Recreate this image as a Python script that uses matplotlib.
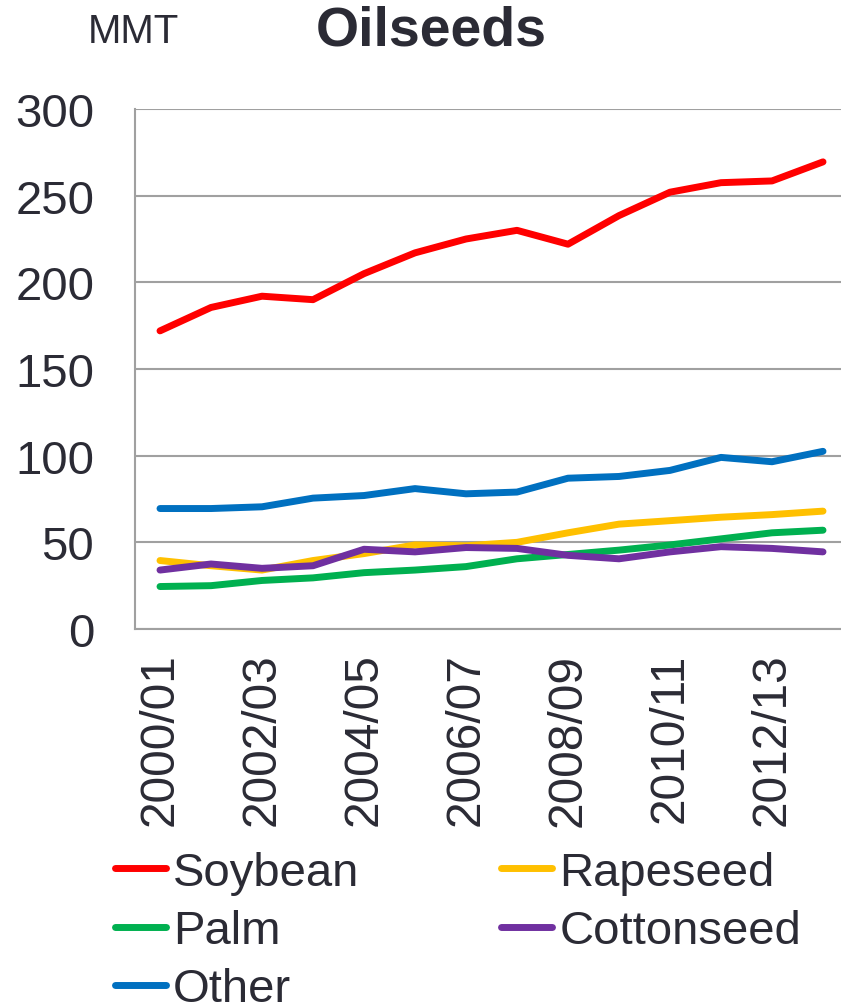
import matplotlib
matplotlib.use("Agg")
import matplotlib.pyplot as plt
from matplotlib.lines import Line2D

plt.rcParams['font.family'] = ['Liberation Sans', 'DejaVu Sans']

years = ["2000/01", "2001/02", "2002/03", "2003/04", "2004/05", "2005/06", "2006/07",
         "2007/08", "2008/09", "2009/10", "2010/11", "2011/12", "2012/13", "2013/14"]
soybean = [172, 185.5, 192, 190, 205, 217, 225, 230, 222, 238.5, 252, 257.5, 258.5, 269.5]
rapeseed = [39.5, 36.5, 34, 39.5, 43.5, 48.5, 48, 50, 55.5, 60.5, 62.5, 64.5, 66, 68]
palm = [24.5, 25, 28, 29.5, 32.5, 34, 36, 40.5, 43, 45.5, 48.5, 52, 55.5, 57]
cottonseed = [34, 37.5, 35, 36.5, 46, 44.5, 47, 46.5, 42.5, 40.5, 44.5, 47.5, 46.5, 44.5]
other = [69.5, 69.5, 70.5, 75.5, 77, 81, 78, 79, 87, 88, 91.5, 99, 96.5, 102.5]

series = [
    ("Soybean", soybean, "#FF0000"),
    ("Rapeseed", rapeseed, "#FFC000"),
    ("Palm", palm, "#00B050"),
    ("Cottonseed", cottonseed, "#7030A0"),
    ("Other", other, "#0070C0"),
]

W, H = 841, 1004
fig = plt.figure(figsize=(W / 100, H / 100), dpi=100)
left, right, top, bottom = 134.5, 848.5, 110, 630
ax = fig.add_axes([left / W, 1 - bottom / H, (right - left) / W, (bottom - top) / H])

text_color = "#2B2B35"
grid_color = "#A0A0A0"

x = list(range(len(years)))
handles = {}
for name, vals, col in series:
    ln, = ax.plot(x, vals, color=col, lw=5, solid_capstyle='round', solid_joinstyle='round',
                  label=name, zorder=3)
    handles[name] = ln

ax.set_xlim(-0.5, len(years) - 0.5)
ax.set_ylim(0, 300)
ax.set_yticks([0, 50, 100, 150, 200, 250, 300])
ax.yaxis.grid(True, color=grid_color, lw=1.5)
ax.set_axisbelow(True)
ax.set_xticks(x[::2])
ax.set_xticklabels(years[::2], rotation=90, ha='center', va='top')

for s in ['top', 'right']:
    ax.spines[s].set_visible(False)
for s in ['left', 'bottom']:
    ax.spines[s].set_color(grid_color)
    ax.spines[s].set_linewidth(1.5)

ax.tick_params(axis='y', labelsize=34, colors=grid_color, labelcolor=text_color,
               length=0, width=1.5, pad=29)
ax.tick_params(axis='x', labelsize=34.5, labelcolor=text_color, length=0, pad=17)

fig.text(133.5 / W, 1 - 43 / H, "MMT", fontsize=29, color=text_color, ha='center', va='baseline')
fig.text(431 / W, 1 - 45 / H, "Oilseeds", fontsize=40, fontweight='bold',
         color=text_color, ha='center', va='baseline')

order = ["Soybean", "Palm", "Other", "Rapeseed", "Cottonseed"]
leg_handles = [Line2D([0], [0], color=handles[n].get_color(), lw=5, solid_capstyle='round')
               for n in order]
fig.legend(leg_handles, order, loc='upper left', bbox_to_anchor=(115 / W, 1 - 852 / H),
           ncol=2, frameon=False, fontsize=34, handlelength=1.08, handletextpad=0.15,
           columnspacing=3.0, labelspacing=0.3, borderpad=0, borderaxespad=0,
           labelcolor=text_color)

fig.savefig("out.png", dpi=100)
